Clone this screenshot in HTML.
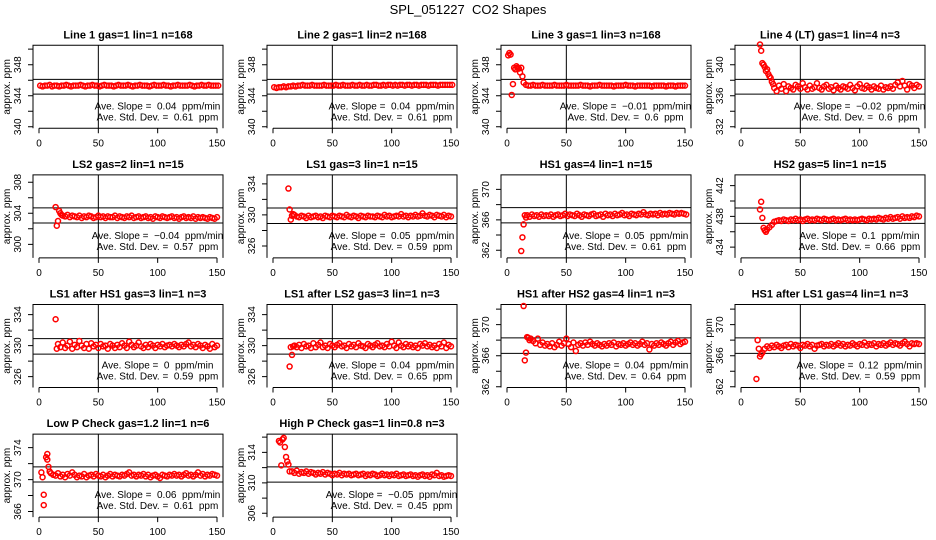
<!DOCTYPE html>
<html><head><meta charset="utf-8"><style>
html,body{margin:0;padding:0;background:#fff;}
svg{display:block;font-family:"Liberation Sans",sans-serif;}
text{white-space:pre;}
</style></head><body>
<svg id="chart" width="936" height="540" viewBox="0 0 936 540" xmlns="http://www.w3.org/2000/svg" xml:space="preserve">
<text x="468" y="14" text-anchor="middle" font-size="13">SPL_051227  CO2 Shapes</text>
</svg>
<script>
// ---- data arrays ----
const xTicks = [0, 50, 100, 150];
const titles = ["Line 1 gas=1 lin=1 n=168","Line 2 gas=1 lin=2 n=168","Line 3 gas=1 lin=3 n=168","Line 4 (LT) gas=1 lin=4 n=3",
"LS2 gas=2 lin=1 n=15","LS1 gas=3 lin=1 n=15","HS1 gas=4 lin=1 n=15","HS2 gas=5 lin=1 n=15",
"LS1 after HS1 gas=3 lin=1 n=3","LS1 after LS2 gas=3 lin=1 n=3","HS1 after HS2 gas=4 lin=1 n=3","HS1 after LS1 gas=4 lin=1 n=3",
"Low P Check gas=1.2 lin=1 n=6","High P Check gas=1 lin=0.8 n=3"];
const slopes = ["0.04","0.04","\u22120.01","\u22120.02","\u22120.04","0.05","0.05","0.1","0","0.04","0.04","0.12","0.06","\u22120.05"];
const stdDevs = ["0.61","0.61","0.6","0.6","0.57","0.59","0.61","0.66","0.59","0.65","0.64","0.59","0.61","0.45"];
const yLow = [339.8,339.8,339.8,331.8,298.25,324.46,361.0,432.6,324.6,324.6,361.9,361.9,365.3,305.5];
const yHigh = [350.5,350.5,350.5,342.5,308.95,335.16,371.9,443.4,335.3,335.3,372.6,372.6,375.7,316.4];
const hLineUpper = [346.1,346.1,346.1,338.1,304.7,330.9,367.6,439.1,330.9,330.9,368.3,368.3,371.6,312.1];
const hLineLower = [344.2,344.2,344.2,336.2,302.75,328.9,365.6,437.1,328.9,328.9,366.3,366.3,369.7,310.1];
const yTickLabels = [[340,344,348],[340,344,348],[340,344,348],[332,336,340],[300,304,308],[326,330,334],[362,366,370],[434,438,442],[326,330,334],[326,330,334],[362,366,370],[362,366,370],[366,370,374],[306,310,314]];
const bodyStart = [1,1,16,28,20,18,17,28,16,18,20,20,12,16];

const head1x=[], head1y=[];
const head2x=[], head2y=[];
const head3x=[1,2,3,4,5,6,7,8,9,10,11,12,13,14];
const head3y=[349.2,349.5,349.3,344.1,345.5,347.6,347.4,347.8,347.6,347.5,347.0,347.6,346.5,345.7];
const head4x=[16,17,18,19,20,21,22,23,24,25,26,27];
const head4y=[342.6,341.8,340.2,340.0,339.7,339.2,339.4,338.8,338.5,338.3,337.8,337.5];
const head5x=[14,15,16,17,18,19];
const head5y=[304.8,302.4,303.0,304.3,304.0,303.8];
const head6x=[13,14,15,16,17];
const head6y=[333.4,330.7,329.4,329.9,330.1];
const head7x=[12,13,14,15,16];
const head7y=[361.9,363.7,365.4,366.6,366.3];
const head8x=[16,17,18,19,20,21,22,24,26];
const head8y=[438.9,439.9,437.8,436.5,436.2,436.0,436.3,436.6,436.9];
const head9x=[14,15];
const head9y=[333.4,329.6];
const head10x=[14,15,16,17];
const head10y=[327.3,329.8,328.8,329.9];
const head11x=[14,15,16,17,18,19];
const head11y=[372.4,365.4,366.4,368.4,368.3,368.0];
const head12x=[13,14,15,16,17,18];
const head12y=[363.0,368.0,366.9,365.9,366.2,366.4];
const head13x=[2,3,4,4,6,7,7,8,9,10];
const head13y=[370.9,370.3,368.1,366.8,372.8,373.2,372.5,371.6,371.0,370.8];
const head14x=[5,6,7,8,9,10,11,12,13,14];
const head14y=[315.5,315.3,312.3,315.7,315.9,314.7,313.4,312.8,312.4,311.5];

const body1=[345.3,345.2,345.3,345.3,345.4,345.2,345.3,345.3,345.2,345.3,345.3,345.4,345.3,345.2,345.3,345.3,345.3,345.4,345.3,345.2,345.3,345.3,345.4,345.3,345.3,345.2,345.3,345.4,345.3,345.3,345.3,345.2,345.3,345.4,345.3,345.3,345.3,345.4,345.3,345.2,345.3,345.3,345.4,345.3,345.3,345.3,345.2,345.3,345.4,345.3,345.3,345.3,345.4,345.3,345.3,345.2,345.3,345.3,345.4,345.3,345.3,345.3,345.3,345.4,345.3,345.2,345.3,345.3,345.4,345.3,345.3,345.4,345.3,345.3,345.3,345.3];
const body2=[345.1,345.0,345.1,345.1,345.2,345.1,345.2,345.2,345.3,345.2,345.3,345.3,345.4,345.3,345.3,345.3,345.4,345.3,345.3,345.3,345.3,345.4,345.3,345.3,345.3,345.3,345.4,345.3,345.3,345.4,345.3,345.3,345.3,345.4,345.3,345.3,345.4,345.3,345.3,345.4,345.3,345.3,345.4,345.4,345.3,345.3,345.4,345.3,345.4,345.4,345.3,345.4,345.3,345.4,345.4,345.3,345.4,345.4,345.3,345.4,345.4,345.3,345.4,345.4,345.4,345.3,345.4,345.4,345.4,345.3,345.4,345.4,345.4,345.4,345.4,345.4];
const body3=[345.4,345.3,345.3,345.4,345.3,345.3,345.3,345.4,345.3,345.3,345.3,345.3,345.4,345.3,345.3,345.3,345.3,345.4,345.3,345.3,345.3,345.3,345.3,345.4,345.3,345.3,345.3,345.2,345.3,345.3,345.3,345.4,345.3,345.3,345.3,345.3,345.3,345.2,345.3,345.3,345.3,345.3,345.4,345.3,345.3,345.3,345.2,345.3,345.3,345.3,345.3,345.3,345.3,345.2,345.3,345.3,345.3,345.3,345.3,345.2,345.3,345.3,345.3,345.2,345.3,345.3,345.3,345.3];
const body4=[337.0,336.6,337.3,336.9,337.5,336.6,337.2,337.0,336.8,337.4,337.2,336.9,337.6,337.1,336.8,337.3,336.9,337.1,337.6,337.0,336.8,337.2,337.4,336.9,337.1,336.7,337.3,337.0,336.8,337.2,337.1,336.9,337.4,337.0,336.7,337.2,337.5,337.0,336.9,337.3,337.1,336.8,337.2,337.0,336.9,337.3,336.8,337.1,337.0,337.2,336.9,337.4,337.7,337.2,337.9,337.3,336.8,337.5,337.3,337.0,337.4,337.2];
const body5=[303.7,303.6,303.8,303.5,303.7,303.6,303.5,303.7,303.4,303.6,303.5,303.7,303.6,303.4,303.5,303.7,303.5,303.6,303.4,303.6,303.5,303.5,303.7,303.4,303.6,303.5,303.4,303.6,303.5,303.7,303.4,303.5,303.6,303.4,303.5,303.6,303.4,303.5,303.3,303.6,303.5,303.4,303.6,303.5,303.4,303.5,303.6,303.4,303.5,303.3,303.5,303.6,303.4,303.5,303.4,303.6,303.3,303.5,303.4,303.5,303.4,303.3,303.5,303.4,303.3,303.5];
const body6=[330.0,329.8,329.7,329.9,329.8,329.6,329.9,329.7,329.8,329.9,329.7,329.8,329.6,329.9,329.8,329.7,329.9,329.8,329.7,329.9,329.8,329.7,330.0,329.8,329.7,329.9,329.8,329.6,329.9,329.8,329.7,329.9,329.8,329.8,329.7,329.9,329.8,329.7,330.0,329.8,329.9,329.7,329.8,329.9,329.8,330.1,329.8,329.9,329.7,329.9,329.8,330.0,329.8,329.9,330.2,329.9,329.8,330.0,329.9,329.7,330.0,329.9,329.8,330.0,329.7,329.9,329.8];
const body7=[366.6,366.4,366.7,366.5,366.6,366.4,366.7,366.5,366.6,366.5,366.7,366.4,366.6,366.7,366.5,366.6,366.8,366.5,366.7,366.6,366.5,366.8,366.6,366.4,366.7,366.6,366.5,366.7,366.8,366.5,366.6,366.7,366.4,366.8,366.6,366.7,366.5,366.8,366.6,366.7,366.9,366.6,366.7,366.5,366.8,366.7,366.6,366.8,366.7,367.0,366.7,366.6,366.8,366.7,366.8,366.6,366.9,366.7,366.8,366.7,366.9,366.8,366.7,366.9,366.8,366.9,366.8,366.7];
const body8=[437.3,437.4,437.5,437.4,437.6,437.5,437.4,437.6,437.5,437.7,437.5,437.6,437.4,437.6,437.7,437.5,437.6,437.5,437.7,437.6,437.5,437.7,437.6,437.5,437.6,437.7,437.5,437.6,437.5,437.6,437.7,437.5,437.6,437.5,437.6,437.5,437.6,437.7,437.6,437.5,437.7,437.6,437.7,437.6,437.8,437.7,437.6,437.8,437.7,437.9,437.7,437.8,437.9,437.7,438.0,437.8,437.9,437.8,438.0,437.9,438.1,438.0];
const body9=[330.2,329.8,330.4,329.7,330.0,330.5,329.6,330.1,329.8,330.6,330.0,329.7,330.2,329.6,330.3,329.9,330.1,329.7,330.2,329.9,330.0,329.6,330.2,330.0,329.7,330.1,329.8,330.3,330.0,329.7,330.5,330.1,329.8,330.0,330.4,329.9,329.7,330.1,329.8,330.2,330.0,329.7,330.1,329.9,330.2,329.8,330.0,330.1,329.9,330.2,330.0,329.8,330.1,329.9,330.2,330.4,329.9,330.1,329.8,330.2,330.0,329.7,330.1,329.9,329.6,330.2,329.8,330.0];
const body10=[330.0,329.8,330.1,329.7,330.2,329.9,330.0,329.7,330.3,329.8,330.1,330.4,329.8,330.0,329.7,330.2,330.0,329.8,330.1,330.3,329.9,330.0,329.7,330.2,329.9,330.1,329.8,330.3,330.0,329.9,329.7,330.2,330.0,329.8,330.1,330.3,329.9,330.0,329.8,330.2,329.9,330.5,330.0,329.7,330.4,330.0,329.8,330.2,329.9,330.1,329.8,330.0,329.7,330.2,330.0,330.3,329.9,330.1,329.8,330.0,329.7,330.2,329.9,330.4,329.7,330.1,329.9];
const body11=[368.2,367.9,367.6,368.2,367.4,367.7,367.3,367.5,367.2,367.6,367.1,367.4,367.8,367.3,367.6,368.2,367.5,367.1,367.7,366.6,367.4,367.6,367.3,367.7,367.4,367.8,367.5,367.3,367.6,367.4,367.2,367.5,367.3,367.6,367.4,367.7,367.2,367.5,367.4,367.6,367.3,367.5,367.7,367.4,367.6,367.3,367.5,367.8,367.4,367.6,366.8,367.5,367.3,367.6,367.4,367.7,367.5,367.3,367.6,367.8,367.4,367.7,367.9,367.5,367.7,367.8];
const body12=[366.9,367.2,367.0,367.3,367.1,367.4,367.2,367.0,367.3,367.4,367.1,367.5,367.2,367.4,367.3,367.0,367.4,367.3,367.5,367.2,367.4,366.9,367.3,367.4,367.5,367.2,367.4,367.3,367.5,367.2,367.4,367.6,367.3,367.5,367.2,367.4,367.3,367.6,367.4,367.2,367.5,367.4,367.7,367.3,367.5,367.4,367.6,367.2,367.5,367.4,367.6,367.3,367.5,367.7,367.4,367.6,367.5,367.3,367.6,367.8,367.5,367.2,367.6,367.5,367.6,367.5];
const body13=[370.6,370.5,370.8,370.4,370.6,370.3,370.7,370.5,370.9,370.6,370.3,370.5,370.4,370.7,370.3,370.5,370.6,370.4,370.7,370.5,370.4,370.6,370.3,370.5,370.7,370.4,370.6,370.5,370.4,370.6,370.5,370.7,370.9,370.5,370.6,370.4,370.6,370.5,370.7,370.4,370.6,370.3,370.5,370.6,370.4,370.2,370.6,370.5,370.4,370.6,370.5,370.7,370.5,370.6,370.4,370.6,370.8,370.5,370.6,370.4,370.6,370.9,370.5,370.7,370.4,370.6,370.5,370.7,370.6,370.5];
const body14=[311.5,311.3,311.6,311.2,311.4,311.3,311.5,311.2,311.4,311.3,311.1,311.3,311.2,311.4,311.1,311.3,311.2,311.0,311.2,311.1,311.3,311.0,311.2,311.1,311.2,311.0,311.1,311.2,311.0,311.1,311.2,310.9,311.1,311.0,311.2,311.1,310.9,311.0,311.2,311.0,311.1,310.9,311.1,311.0,311.2,310.9,311.0,311.1,310.9,311.0,311.1,310.9,311.0,310.8,311.0,311.1,310.9,311.0,310.8,311.1,311.0,311.3,310.9,311.0,310.8,310.9,311.0,310.9];

const heads = [[head1x,head1y],[head2x,head2y],[head3x,head3y],[head4x,head4y],[head5x,head5y],[head6x,head6y],[head7x,head7y],[head8x,head8y],[head9x,head9y],[head10x,head10y],[head11x,head11y],[head12x,head12y],[head13x,head13y],[head14x,head14y]];
const bodies = [body1,body2,body3,body4,body5,body6,body7,body8,body9,body10,body11,body12,body13,body14];

// ---- layout ----
const NS = "http://www.w3.org/2000/svg";
const svg = document.getElementById('chart');
const BOX_W = 190, BOX_H = 83;
function mk(tag, attrs, parent) {
  const e = document.createElementNS(NS, tag);
  for (const k in attrs) e.setAttribute(k, attrs[k]);
  parent.appendChild(e);
  return e;
}
for (let p = 0; p < titles.length; p++) {
  const col = p % 4, row = Math.floor(p / 4);
  const L = 33 + 234 * col, T = 45.3 + 129.6 * row, B = T + BOX_H, R = L + BOX_W;
  const xs = v => L + 6 + v * (178 / 150);
  const ys = v => B - (v - yLow[p]) / (yHigh[p] - yLow[p]) * BOX_H;
  const g = mk('g', {}, svg);
  
  

  const t = mk('text', {x: L + BOX_W / 2, y: T - 7, 'text-anchor': 'middle', 'font-size': 11, 'font-weight': 'bold'}, g);
  
  
  t.textContent = titles[p];

  const box = mk('path', {d: `M${L},${B}V${T}H${R}V${B}`, fill: 'none', stroke: '#000', 'stroke-width': 1}, g);
  
  

  const xa = mk('path', {d: `M${xs(0)},${B}H${xs(150)}` + xTicks.map(v => `M${xs(v)},${B}v5`).join(''), stroke: '#000', fill: 'none'}, g);
  
  
  xTicks.forEach(v => {
    const tl = mk('text', {x: xs(v), y: B + 18, 'text-anchor': 'middle', 'font-size': 10}, g);
    
    
    tl.textContent = v;
  });

  let d = '';
  for (let v = Math.ceil(yLow[p] / 2) * 2; v <= yHigh[p]; v += 2) d += `M${L},${ys(v)}h-5`;
  const ya = mk('path', {d: d, stroke: '#000', fill: 'none'}, g);
  
  
  yTickLabels[p].forEach(v => {
    const yy = ys(v);
    const tl = mk('text', {x: 0, y: 0, 'text-anchor': 'middle', 'font-size': 10, transform: `translate(${L - 12},${yy}) rotate(-90)`}, g);
    
    
    tl.textContent = v;
  });
  const yt = mk('text', {x: 0, y: 0, 'text-anchor': 'middle', 'font-size': 10, transform: `translate(${L - 23},${T + BOX_H / 2}) rotate(-90)`}, g);
  
  
  yt.textContent = 'approx. ppm';

  const ref = mk('path', {d: `M${xs(50)},${T}V${B}M${L},${ys(hLineUpper[p])}H${R}M${L},${ys(hLineLower[p])}H${R}`, stroke: '#000', fill: 'none'}, g);
  
  

  const pts = mk('g', {fill: 'none', stroke: '#ff0000', 'stroke-width': 1.5}, g);
  
  
  const hx = heads[p][0], hy = heads[p][1];
  for (let i = 0; i < hx.length; i++) {
    const c = mk('circle', {cx: xs(hx[i]), cy: ys(hy[i]), r: 2.5}, pts);
    
    
  }
  const bd = bodies[p];
  for (let i = 0; i < bd.length; i++) {
    const c = mk('circle', {cx: xs(bodyStart[p] + 2 * i), cy: ys(bd[i]), r: 2.5}, pts);
    
    
  }

  const a1 = mk('text', {x: L + 124.5, y: T + 64, 'text-anchor': 'middle', 'font-size': 10}, g);
  
  
  a1.textContent = 'Ave. Slope =  ' + slopes[p] + '  ppm/min';
  const a2 = mk('text', {x: L + 124.5, y: T + 75, 'text-anchor': 'middle', 'font-size': 10}, g);
  
  
  a2.textContent = 'Ave. Std. Dev. =  ' + stdDevs[p] + '  ppm';
}
</script>
</body></html>
